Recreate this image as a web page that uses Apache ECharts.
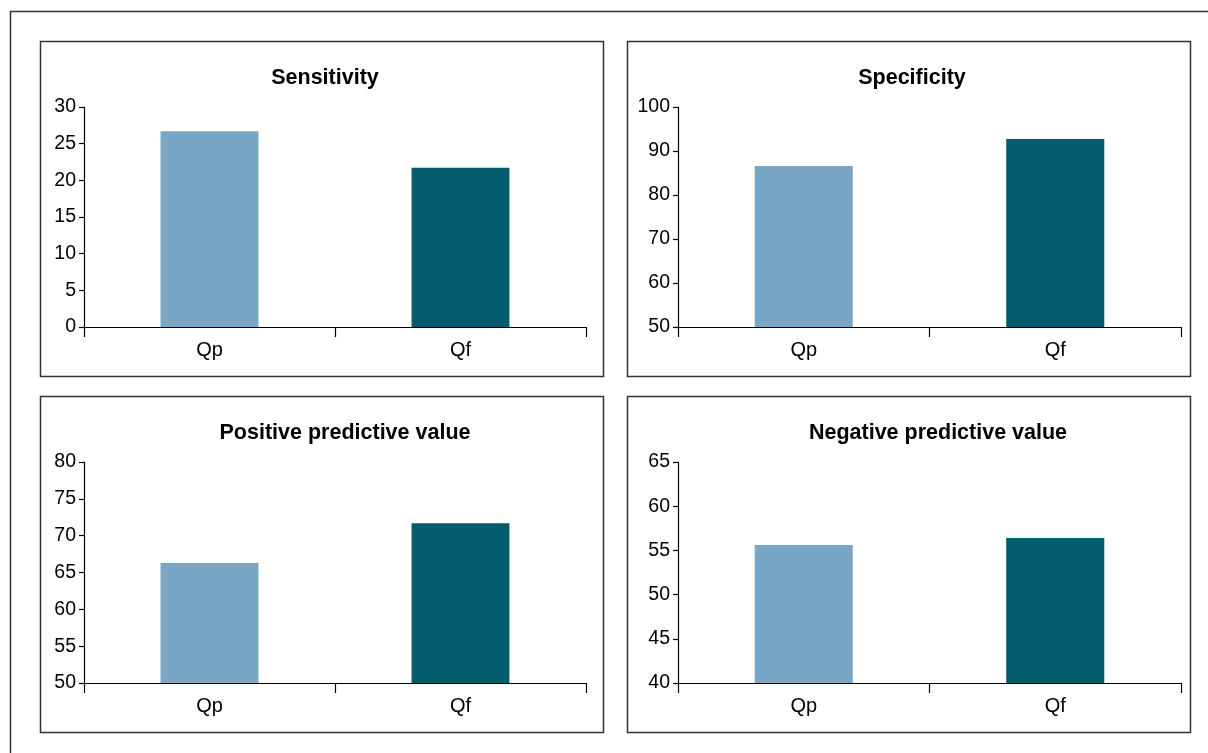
<!DOCTYPE html>
<html><head><meta charset="utf-8">
<script src="https://cdn.jsdelivr.net/npm/echarts@6/dist/echarts.min.js"></script>
<style>html,body{margin:0;padding:0;background:#fff}#c{width:1208px;height:753px}</style>
</head><body><div id="c"></div>
<script>
const categories = ['Qp', 'Qf'];
const titles = ['Sensitivity', 'Specificity', 'Positive predictive value', 'Negative predictive value'];
const sensitivity = [26.7, 21.7];
const specificity = [86.6, 92.7];
const ppv = [66.3, 71.7];
const npv = [55.6, 56.4];
const yMins = [0, 50, 50, 40];
const yMaxs = [30, 100, 80, 65];
const yIntervals = [5, 10, 5, 5];
const barColors = ['#79a6c4', '#035c6d'];

const seriesData = [sensitivity, specificity, ppv, npv];
const font = 'Liberation Sans, Arial, Helvetica, sans-serif';
const panels = [
  {box: [40, 41, 563, 335], titleX: 325, titleY: 67, grid: {left: 84, top: 107, width: 502, height: 220}},
  {box: [627, 41, 563, 335], titleX: 912, titleY: 67, grid: {left: 678, top: 107, width: 503, height: 220}},
  {box: [40, 396, 563, 336], titleX: 345, titleY: 422, grid: {left: 84, top: 462, width: 502, height: 221}},
  {box: [627, 396, 563, 336], titleX: 938, titleY: 422, grid: {left: 678, top: 462, width: 503, height: 221}}
];

const chart = echarts.init(document.getElementById('c'), null, {renderer: 'canvas'});
const option = {
  animation: false,
  backgroundColor: '#fff',
  title: panels.map((p, i) => ({
    text: titles[i],
    left: p.titleX,
    top: p.titleY,
    padding: 0,
    textAlign: 'center',
    textStyle: {fontFamily: font, fontSize: 21.5, fontWeight: 'bold', color: '#000'}
  })),
  grid: panels.map(p => Object.assign({containLabel: false}, p.grid)),
  xAxis: panels.map((p, i) => ({
    type: 'category', gridIndex: i, data: categories,
    axisLine: {lineStyle: {color: '#000', width: 1.2}},
    axisTick: {show: true, length: 10, lineStyle: {color: '#000', width: 1.2}},
    axisLabel: {fontFamily: font, fontSize: 20, color: '#000', margin: 13}
  })),
  yAxis: panels.map((p, i) => ({
    type: 'value', gridIndex: i, min: yMins[i], max: yMaxs[i], interval: yIntervals[i],
    splitLine: {show: false},
    axisLine: {show: true, lineStyle: {color: '#000', width: 1.2}},
    axisTick: {show: true, length: 5, lineStyle: {color: '#000', width: 1.2}},
    axisLabel: {fontFamily: font, fontSize: 19.5, color: '#000', margin: 8}
  })),
  series: panels.map((p, i) => ({
    type: 'bar', xAxisIndex: i, yAxisIndex: i, barWidth: '39%',
    data: seriesData[i].map((v, j) => ({value: v, itemStyle: {color: barColors[j]}}))
  })),
  graphic: [
    {type: 'polyline', shape: {points: [[10.5, 760], [10.5, 11.5], [1215, 11.5]]}, style: {stroke: '#333', lineWidth: 1.5, fill: null}, silent: true}
  ].concat(panels.map(p => ({
    type: 'rect', shape: {x: p.box[0] + 0.5, y: p.box[1] + 0.5, width: p.box[2], height: p.box[3]},
    style: {stroke: '#333', lineWidth: 1.5, fill: null}, silent: true, z: -1
  })))
};
chart.setOption(option);
</script>
</body></html>
